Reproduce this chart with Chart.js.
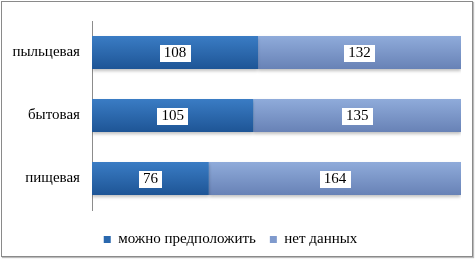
<!DOCTYPE html>
<html><head><meta charset="utf-8">
<script src="https://cdn.jsdelivr.net/npm/chart.js@4/dist/chart.umd.min.js"></script>
<style>
html,body{margin:0;padding:0;background:#fff;}
#wrap{position:absolute;left:0;top:0;width:475px;height:259px;}
#frame{position:absolute;left:1px;top:1px;width:470px;height:254px;border:1px solid #8a8a8a;box-shadow:1px 1px 1px #bbb;}
canvas{position:absolute;left:0;top:0;}
</style></head>
<body><div id="wrap"><div id="frame"></div><canvas id="c" width="475" height="259"></canvas></div>
<script>
const categories = ["пыльцевая", "бытовая", "пищевая"];
const seriesNames = ["можно предположить", "нет данных"];
const possible = [108, 105, 76];
const noData = [132, 135, 164];
const axisMax = 240;

const SERIF = "Liberation Serif";
Chart.defaults.font.family = SERIF;
Chart.defaults.font.size = 14;
Chart.defaults.color = '#000';

function grad(ctx, top, bottom, flat) {
  const chart = ctx.chart;
  const ys = chart.scales && chart.scales.y;
  if (!chart.chartArea || !ys || ctx.dataIndex === undefined) return flat;
  const cy = ys.getPixelForValue(ctx.dataIndex);
  const half = ys.height / categories.length * 0.52 / 2;
  if (!isFinite(cy) || !isFinite(half)) return flat;
  const g = chart.ctx.createLinearGradient(0, cy - half, 0, cy + half);
  g.addColorStop(0, top);
  g.addColorStop(1, bottom);
  return g;
}

const labelPlugin = {
  id: 'boxLabels',
  afterDatasetsDraw(chart) {
    const c = chart.ctx;
    c.save();
    c.font = "15px 'Liberation Serif'";
    c.textAlign = 'center';
    c.textBaseline = 'middle';
    chart.data.datasets.forEach((ds, i) => {
      chart.getDatasetMeta(i).data.forEach((bar, j) => {
        const p = bar.getProps(['x','base','y'], true);
        const cx = (p.x + p.base) / 2;
        const txt = String(ds.data[j]);
        const w = c.measureText(txt).width + 8;
        c.fillStyle = '#fff';
        c.fillRect(Math.round(cx - w/2), Math.round(p.y - 8), Math.round(w), 17);
        c.fillStyle = '#000';
        c.fillText(txt, cx, p.y + 1);
      });
    });
    c.restore();
  }
};

const shadowPlugin = {
  id: 'barShadow',
  beforeDatasetsDraw(chart) {
    const c = chart.ctx;
    c.save();
    c.shadowColor = 'rgba(0,0,0,0.25)';
    c.shadowOffsetY = 2;
    c.shadowBlur = 3;
  },
  afterDatasetsDraw(chart) {
    chart.ctx.restore();
  }
};

const legendShift = {
  id: 'legendShift',
  afterLayout(chart) {
    const l = chart.legend;
    if (l) { l.top += 8; l.bottom += 8; }
  }
};

new Chart(document.getElementById('c'), {
  type: 'bar',
  data: {
    labels: categories,
    datasets: [
      { label: seriesNames[0], data: possible,
        backgroundColor: ctx => grad(ctx, '#3a7cc4', '#1e5596', '#2a68ae'),
        borderWidth: 0, categoryPercentage: 1, barPercentage: 0.52 },
      { label: seriesNames[1], data: noData,
        backgroundColor: ctx => grad(ctx, '#8fabda', '#6882b6', '#7f9acd'),
        borderWidth: 0, categoryPercentage: 1, barPercentage: 0.52 }
    ]
  },
  options: {
    indexAxis: 'y',
    responsive: false,
    animation: false,
    layout: { padding: { left: 0, right: 14, top: 5, bottom: 10 } },
    scales: {
      x: { stacked: true, min: 0, max: axisMax, display: false },
      y: { stacked: true,
        grid: { display: false, drawTicks: false },
        border: { display: true, color: '#8c8c8c', width: 1 },
        ticks: { color: '#000', padding: 12, font: { family: SERIF, size: 15 } },
        afterFit(scale) { scale.width = 92; }
      }
    },
    plugins: {
      legend: { position: 'bottom',
        labels: { color: '#000', boxWidth: 7, boxHeight: 7, padding: 14,
          font: { family: SERIF, size: 15 },
          generateLabels(chart) {
            const cols = ['#2a68ae', '#7f9acd'];
            return chart.data.datasets.map((d, i) => ({ text: d.label, fillStyle: cols[i], strokeStyle: cols[i], lineWidth: 0, datasetIndex: i, hidden: false }));
          }
        } },
      tooltip: { enabled: false }
    }
  },
  plugins: [shadowPlugin, labelPlugin, legendShift]
});
</script></body></html>
